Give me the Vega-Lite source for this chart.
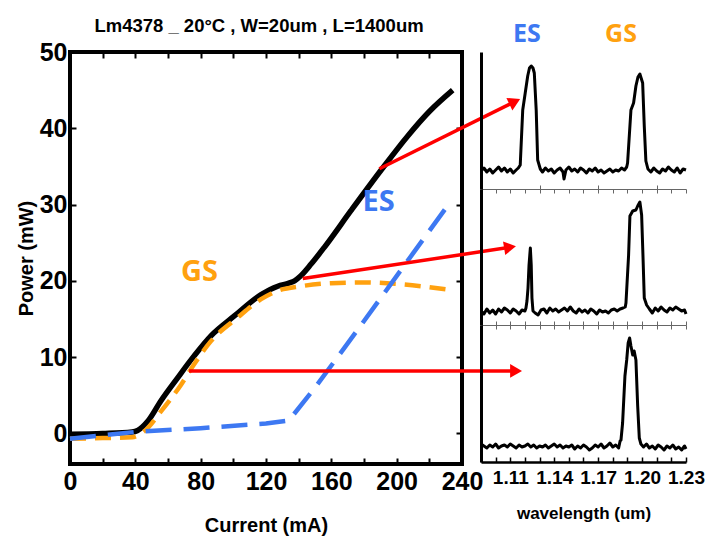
{
  "$schema": "https://vega.github.io/schema/vega-lite/v6.json",
  "background": "white",
  "padding": {"left": 14, "top": 14, "right": 2, "bottom": 2},
  "bounds": "flush",
  "spacing": 19,
  "config": {
    "view": {"stroke": "black", "strokeWidth": 4},
    "font": "Liberation Sans",
    "axis": {
      "labelFont": "Liberation Sans",
      "labelFontWeight": "bold",
      "labelColor": "black",
      "titleFont": "Liberation Sans",
      "titleFontWeight": "bold",
      "titleColor": "black",
      "grid": false,
      "domain": false,
      "tickColor": "black"
    }
  },
  "datasets": {
    "li": [
      {"s": "total", "I": 0, "P": -0.1}, {"s": "total", "I": 20, "P": 0.0}, {"s": "total", "I": 38, "P": 0.2},
      {"s": "total", "I": 41.4, "P": 0.4}, {"s": "total", "I": 47.6, "P": 1.6}, {"s": "total", "I": 55.7, "P": 4.3},
      {"s": "total", "I": 65.9, "P": 7.3}, {"s": "total", "I": 76.1, "P": 10.2}, {"s": "total", "I": 86.3, "P": 12.8},
      {"s": "total", "I": 100.6, "P": 15.4}, {"s": "total", "I": 117, "P": 18.2}, {"s": "total", "I": 127.2, "P": 19.3},
      {"s": "total", "I": 134, "P": 19.7}, {"s": "total", "I": 137.5, "P": 20.0}, {"s": "total", "I": 141, "P": 20.6},
      {"s": "total", "I": 147.6, "P": 22.2}, {"s": "total", "I": 155.7, "P": 24.4}, {"s": "total", "I": 172, "P": 29.2},
      {"s": "total", "I": 190.4, "P": 34.5}, {"s": "total", "I": 206.8, "P": 39.0}, {"s": "total", "I": 220, "P": 42.2},
      {"s": "total", "I": 234.3, "P": 45.0},
      {"s": "GS", "I": 0, "P": -0.7}, {"s": "GS", "I": 20, "P": -0.6}, {"s": "GS", "I": 38, "P": -0.5},
      {"s": "GS", "I": 45.5, "P": 0.3}, {"s": "GS", "I": 55.7, "P": 2.9}, {"s": "GS", "I": 68, "P": 6.4},
      {"s": "GS", "I": 76.1, "P": 9.1}, {"s": "GS", "I": 86.3, "P": 12.1}, {"s": "GS", "I": 102.7, "P": 15.2},
      {"s": "GS", "I": 117, "P": 17.6}, {"s": "GS", "I": 127.2, "P": 18.7}, {"s": "GS", "I": 141.4, "P": 19.3},
      {"s": "GS", "I": 160, "P": 19.7}, {"s": "GS", "I": 180, "P": 19.8}, {"s": "GS", "I": 200, "P": 19.6},
      {"s": "GS", "I": 215, "P": 19.3}, {"s": "GS", "I": 230, "P": 18.9},
      {"s": "ES", "I": 0, "P": -0.7}, {"s": "ES", "I": 40, "P": 0.2}, {"s": "ES", "I": 80, "P": 0.7},
      {"s": "ES", "I": 120, "P": 1.3}, {"s": "ES", "I": 134, "P": 1.7}, {"s": "ES", "I": 150, "P": 6.0},
      {"s": "ES", "I": 170, "P": 11.8}, {"s": "ES", "I": 190.4, "P": 17.8}, {"s": "ES", "I": 210, "P": 23.6},
      {"s": "ES", "I": 231, "P": 29.8}
    ],
    "arr": [
      {"x1": 72.9, "y1": 8.2, "x2": 273.1, "y2": 8.2, "ang": 0},
      {"x1": 142.5, "y1": 20.3, "x2": 269.4, "y2": 24.4, "ang": 350.8},
      {"x1": 189.4, "y1": 34.7, "x2": 272.3, "y2": 43.5, "ang": 334.2}
    ],
    "lilbl": [
      {"I": 79.2, "P": 21.1, "t": "GS"},
      {"I": 188.9, "P": 30.3, "t": "ES"}
    ],
    "speclbl": [
      {"w": 1.1214, "i": 155.5, "t": "ES"},
      {"w": 1.1856, "i": 155.5, "t": "GS"}
    ],
    "top": [
      {"w": 1.090, "i": 18}, {"w": 1.092, "i": 21}, {"w": 1.094, "i": 17}, {"w": 1.096, "i": 20}, {"w": 1.098, "i": 16},
      {"w": 1.100, "i": 19}, {"w": 1.102, "i": 22}, {"w": 1.104, "i": 18}, {"w": 1.106, "i": 21}, {"w": 1.108, "i": 17},
      {"w": 1.110, "i": 20}, {"w": 1.112, "i": 16}, {"w": 1.114, "i": 19}, {"w": 1.1155, "i": 21},
      {"w": 1.1168, "i": 24}, {"w": 1.1185, "i": 79}, {"w": 1.1202, "i": 96}, {"w": 1.1219, "i": 113}, {"w": 1.1231, "i": 121},
      {"w": 1.1243, "i": 123}, {"w": 1.1255, "i": 121}, {"w": 1.1264, "i": 116}, {"w": 1.1277, "i": 79}, {"w": 1.1287, "i": 29},
      {"w": 1.1305, "i": 20},
      {"w": 1.132, "i": 17}, {"w": 1.134, "i": 21}, {"w": 1.136, "i": 18}, {"w": 1.138, "i": 20}, {"w": 1.140, "i": 16},
      {"w": 1.142, "i": 19}, {"w": 1.144, "i": 21}, {"w": 1.146, "i": 17}, {"w": 1.1467, "i": 10}, {"w": 1.148, "i": 19},
      {"w": 1.150, "i": 22}, {"w": 1.152, "i": 18}, {"w": 1.154, "i": 20}, {"w": 1.156, "i": 17}, {"w": 1.158, "i": 21},
      {"w": 1.160, "i": 19}, {"w": 1.162, "i": 16}, {"w": 1.164, "i": 20}, {"w": 1.166, "i": 18}, {"w": 1.168, "i": 21},
      {"w": 1.170, "i": 17}, {"w": 1.172, "i": 19}, {"w": 1.174, "i": 16}, {"w": 1.176, "i": 18}, {"w": 1.178, "i": 20},
      {"w": 1.180, "i": 17}, {"w": 1.182, "i": 19}, {"w": 1.184, "i": 18}, {"w": 1.186, "i": 21}, {"w": 1.188, "i": 19},
      {"w": 1.1895, "i": 22},
      {"w": 1.1901, "i": 26}, {"w": 1.1924, "i": 79}, {"w": 1.1942, "i": 86}, {"w": 1.1958, "i": 103}, {"w": 1.1972, "i": 112},
      {"w": 1.1985, "i": 115}, {"w": 1.2004, "i": 106}, {"w": 1.2015, "i": 63}, {"w": 1.2026, "i": 28}, {"w": 1.204, "i": 20},
      {"w": 1.206, "i": 17}, {"w": 1.208, "i": 21}, {"w": 1.210, "i": 18}, {"w": 1.212, "i": 16}, {"w": 1.214, "i": 20},
      {"w": 1.216, "i": 18}, {"w": 1.218, "i": 22}, {"w": 1.220, "i": 19}, {"w": 1.222, "i": 17}, {"w": 1.224, "i": 21},
      {"w": 1.226, "i": 16}, {"w": 1.228, "i": 20}, {"w": 1.230, "i": 19}
    ],
    "mid": [
      {"w": 1.090, "i": 14}, {"w": 1.092, "i": 11}, {"w": 1.094, "i": 16}, {"w": 1.096, "i": 12}, {"w": 1.098, "i": 15},
      {"w": 1.100, "i": 11}, {"w": 1.102, "i": 16}, {"w": 1.104, "i": 13}, {"w": 1.106, "i": 17}, {"w": 1.108, "i": 15},
      {"w": 1.110, "i": 12}, {"w": 1.112, "i": 16}, {"w": 1.114, "i": 14}, {"w": 1.116, "i": 11}, {"w": 1.118, "i": 15},
      {"w": 1.120, "i": 14}, {"w": 1.1207, "i": 17},
      {"w": 1.1214, "i": 24}, {"w": 1.1221, "i": 37}, {"w": 1.1228, "i": 60}, {"w": 1.1237, "i": 77}, {"w": 1.1243, "i": 60},
      {"w": 1.1248, "i": 27}, {"w": 1.1255, "i": 14},
      {"w": 1.127, "i": 12}, {"w": 1.129, "i": 10}, {"w": 1.131, "i": 15}, {"w": 1.133, "i": 16}, {"w": 1.135, "i": 12},
      {"w": 1.137, "i": 17}, {"w": 1.139, "i": 14}, {"w": 1.141, "i": 16}, {"w": 1.143, "i": 13}, {"w": 1.145, "i": 15},
      {"w": 1.147, "i": 17}, {"w": 1.149, "i": 14}, {"w": 1.151, "i": 18}, {"w": 1.153, "i": 14}, {"w": 1.155, "i": 12},
      {"w": 1.157, "i": 16}, {"w": 1.159, "i": 13}, {"w": 1.161, "i": 15}, {"w": 1.163, "i": 12}, {"w": 1.165, "i": 16},
      {"w": 1.167, "i": 14}, {"w": 1.169, "i": 11}, {"w": 1.171, "i": 15}, {"w": 1.173, "i": 13}, {"w": 1.175, "i": 14},
      {"w": 1.177, "i": 12}, {"w": 1.179, "i": 15}, {"w": 1.181, "i": 16}, {"w": 1.183, "i": 14}, {"w": 1.185, "i": 16},
      {"w": 1.187, "i": 17}, {"w": 1.1885, "i": 18},
      {"w": 1.189, "i": 22}, {"w": 1.1908, "i": 70}, {"w": 1.1917, "i": 109}, {"w": 1.1936, "i": 114}, {"w": 1.1958, "i": 115},
      {"w": 1.197, "i": 119}, {"w": 1.1985, "i": 123}, {"w": 1.1997, "i": 110}, {"w": 1.2006, "i": 70}, {"w": 1.2015, "i": 27},
      {"w": 1.2031, "i": 20},
      {"w": 1.205, "i": 16}, {"w": 1.207, "i": 12}, {"w": 1.209, "i": 17}, {"w": 1.211, "i": 14}, {"w": 1.213, "i": 18},
      {"w": 1.215, "i": 15}, {"w": 1.217, "i": 13}, {"w": 1.219, "i": 17}, {"w": 1.221, "i": 15}, {"w": 1.223, "i": 18},
      {"w": 1.225, "i": 16}, {"w": 1.227, "i": 14}, {"w": 1.229, "i": 15}, {"w": 1.230, "i": 11}
    ],
    "bot": [
      {"w": 1.090, "i": 18}, {"w": 1.092, "i": 16}, {"w": 1.094, "i": 14}, {"w": 1.096, "i": 17}, {"w": 1.098, "i": 15},
      {"w": 1.100, "i": 18}, {"w": 1.102, "i": 14}, {"w": 1.104, "i": 16}, {"w": 1.106, "i": 17}, {"w": 1.108, "i": 15},
      {"w": 1.110, "i": 18}, {"w": 1.112, "i": 16}, {"w": 1.114, "i": 14}, {"w": 1.116, "i": 17}, {"w": 1.118, "i": 15},
      {"w": 1.120, "i": 16}, {"w": 1.122, "i": 18}, {"w": 1.124, "i": 15}, {"w": 1.126, "i": 17}, {"w": 1.128, "i": 14},
      {"w": 1.130, "i": 16}, {"w": 1.132, "i": 15}, {"w": 1.134, "i": 17}, {"w": 1.136, "i": 14}, {"w": 1.138, "i": 16},
      {"w": 1.140, "i": 18}, {"w": 1.142, "i": 15}, {"w": 1.144, "i": 17}, {"w": 1.146, "i": 14}, {"w": 1.148, "i": 16},
      {"w": 1.150, "i": 15}, {"w": 1.152, "i": 17}, {"w": 1.154, "i": 13}, {"w": 1.156, "i": 16}, {"w": 1.158, "i": 14},
      {"w": 1.160, "i": 17}, {"w": 1.162, "i": 15}, {"w": 1.164, "i": 12}, {"w": 1.166, "i": 14}, {"w": 1.168, "i": 17},
      {"w": 1.170, "i": 15}, {"w": 1.172, "i": 18}, {"w": 1.174, "i": 14}, {"w": 1.176, "i": 16}, {"w": 1.178, "i": 19},
      {"w": 1.180, "i": 15}, {"w": 1.182, "i": 17}, {"w": 1.184, "i": 14}, {"w": 1.185, "i": 21},
      {"w": 1.1856, "i": 22}, {"w": 1.1867, "i": 39}, {"w": 1.1883, "i": 86}, {"w": 1.1895, "i": 102}, {"w": 1.1905, "i": 119},
      {"w": 1.1915, "i": 124}, {"w": 1.1924, "i": 116}, {"w": 1.1936, "i": 107}, {"w": 1.1946, "i": 111}, {"w": 1.1958, "i": 102},
      {"w": 1.197, "i": 56}, {"w": 1.1981, "i": 24}, {"w": 1.1992, "i": 18},
      {"w": 1.201, "i": 15}, {"w": 1.203, "i": 18}, {"w": 1.205, "i": 14}, {"w": 1.207, "i": 16}, {"w": 1.209, "i": 13},
      {"w": 1.211, "i": 17}, {"w": 1.213, "i": 15}, {"w": 1.215, "i": 12}, {"w": 1.217, "i": 16}, {"w": 1.219, "i": 14},
      {"w": 1.221, "i": 17}, {"w": 1.223, "i": 13}, {"w": 1.225, "i": 15}, {"w": 1.227, "i": 12}, {"w": 1.229, "i": 16},
      {"w": 1.230, "i": 13}
    ]
  },
  "hconcat": [
    {
      "width": 392,
      "height": 412,
      "title": {
        "text": "Lm4378 _ 20°C , W=20um , L=1400um",
        "font": "Liberation Sans",
        "fontSize": 18.5,
        "fontWeight": "bold",
        "color": "black",
        "frame": "group",
        "offset": 5,
        "dx": -7,
        "anchor": "middle"
      },
      "resolve": {"axis": {"x": "independent", "y": "independent"}},
      "layer": [
        {
          "data": {"name": "li"},
          "transform": [{"filter": "datum.s == 'total'"}],
          "mark": {"type": "line", "color": "black", "strokeWidth": 5.5, "strokeJoin": "round", "strokeCap": "butt", "interpolate": "monotone"},
          "encoding": {
            "x": {"field": "I", "type": "quantitative", "scale": {"domain": [0, 240], "nice": false, "zero": false},
              "axis": {"orient": "bottom", "values": [0, 20, 40, 60, 80, 100, 120, 140, 160, 180, 200, 220, 240],
                "labelExpr": "datum.value % 40 === 0 ? datum.label : ''", "tickSize": -6, "tickWidth": 2,
                "labelPadding": 11, "labelFontSize": 25, "labelOverlap": false, "labelFlush": false,
                "title": "Current (mA)", "titleFontSize": 20, "titlePadding": 21}},
            "y": {"field": "P", "type": "quantitative", "scale": {"domain": [-4, 50], "nice": false, "zero": false},
              "axis": {"orient": "left", "values": [0, 10, 20, 30, 40, 50], "tickSize": -6, "tickWidth": 2,
                "labelPadding": 9, "labelFontSize": 25, "labelFlush": false, "labelOverlap": false,
                "title": "Power (mW)", "titleFontSize": 20, "titlePadding": 3}}
          }
        },
        {
          "data": {"name": "li"},
          "transform": [{"filter": "datum.s == 'total'"}],
          "mark": {"type": "line", "strokeOpacity": 0},
          "encoding": {
            "x": {"field": "I", "type": "quantitative",
              "axis": {"orient": "top", "values": [0, 20, 40, 60, 80, 100, 120, 140, 160, 180, 200, 220, 240],
                "labels": false, "tickSize": -6, "tickWidth": 2, "title": null}},
            "y": {"field": "P", "type": "quantitative",
              "axis": {"orient": "right", "values": [0, 10, 20, 30, 40, 50], "labels": false, "tickSize": -6, "tickWidth": 2, "title": null}}
          }
        },
        {
          "data": {"name": "li"},
          "transform": [{"filter": "datum.s == 'GS'"}],
          "mark": {"type": "line", "color": "#FFA10F", "strokeWidth": 4.5, "strokeDash": [16, 9], "interpolate": "monotone"},
          "encoding": {
            "x": {"field": "I", "type": "quantitative", "axis": null},
            "y": {"field": "P", "type": "quantitative", "axis": null}
          }
        },
        {
          "data": {"name": "li"},
          "transform": [{"filter": "datum.s == 'ES'"}],
          "mark": {"type": "line", "color": "#3D78F2", "strokeWidth": 4.5, "strokeDash": [26, 12]},
          "encoding": {
            "x": {"field": "I", "type": "quantitative", "axis": null},
            "y": {"field": "P", "type": "quantitative", "axis": null}
          }
        },
        {
          "data": {"name": "arr"},
          "mark": {"type": "rule", "color": "#FF0000", "strokeWidth": 3.5},
          "encoding": {
            "x": {"field": "x1", "type": "quantitative", "axis": null},
            "y": {"field": "y1", "type": "quantitative", "axis": null},
            "x2": {"field": "x2"},
            "y2": {"field": "y2"}
          }
        },
        {
          "data": {"name": "arr"},
          "mark": {"type": "point", "shape": "triangle-right", "filled": true, "color": "#FF0000", "size": 190, "opacity": 1},
          "encoding": {
            "x": {"field": "x2", "type": "quantitative", "axis": null},
            "y": {"field": "y2", "type": "quantitative", "axis": null},
            "angle": {"field": "ang", "type": "quantitative", "scale": null}
          }
        },
        {
          "data": {"name": "lilbl"},
          "mark": {"type": "text", "font": "Open Sans", "fontWeight": "bold", "fontSize": 29, "baseline": "middle", "align": "center"},
          "encoding": {
            "x": {"field": "I", "type": "quantitative", "axis": null},
            "y": {"field": "P", "type": "quantitative", "axis": null},
            "text": {"field": "t"},
            "color": {"field": "t", "type": "nominal", "scale": {"domain": ["ES", "GS"], "range": ["#3D78F2", "#FFA10F"]}, "legend": null}
          }
        }
      ]
    },
    {
      "bounds": "flush",
      "spacing": 0,
      "vconcat": [
        {
          "width": 205,
          "height": 137,
          "view": {"stroke": null},
          "layer": [
            {
              "data": {"name": "top"},
              "mark": {"type": "line", "color": "black", "strokeWidth": 3, "strokeJoin": "round"},
              "encoding": {
                "x": {"field": "w", "type": "quantitative", "scale": {"domain": [1.09, 1.23], "nice": false, "zero": false},
                  "axis": {"orient": "bottom", "values": [1.09, 1.1, 1.11, 1.12, 1.13, 1.14, 1.15, 1.16, 1.17, 1.18, 1.19, 1.2, 1.21, 1.22, 1.23],
                    "labels": false, "tickSize": -4, "tickColor": "#666666", "domain": true, "domainColor": "#666666", "domainWidth": 1.2, "title": null}},
                "y": {"field": "i", "type": "quantitative", "scale": {"domain": [0, 137], "nice": false},
                  "axis": {"orient": "left", "domain": true, "domainColor": "black", "domainWidth": 3, "ticks": false, "labels": false, "title": null}}
              }
            },
            {
              "data": {"name": "speclbl"},
              "mark": {"type": "text", "font": "Open Sans", "fontWeight": "bold", "fontSize": 25, "baseline": "middle", "align": "center"},
              "encoding": {
                "x": {"field": "w", "type": "quantitative"},
                "y": {"field": "i", "type": "quantitative"},
                "text": {"field": "t"},
                "color": {"field": "t", "type": "nominal", "scale": {"domain": ["ES", "GS"], "range": ["#3D78F2", "#FFA10F"]}, "legend": null}
              }
            }
          ]
        },
        {
          "width": 205,
          "height": 136,
          "view": {"stroke": null},
          "resolve": {"axis": {"x": "independent"}},
          "layer": [
            {
              "data": {"name": "mid"},
              "mark": {"type": "line", "color": "black", "strokeWidth": 3, "strokeJoin": "round"},
              "encoding": {
                "x": {"field": "w", "type": "quantitative", "scale": {"domain": [1.09, 1.23], "nice": false, "zero": false},
                  "axis": {"orient": "bottom", "values": [1.09, 1.1, 1.11, 1.12, 1.13, 1.14, 1.15, 1.16, 1.17, 1.18, 1.19, 1.2, 1.21, 1.22, 1.23],
                    "labels": false, "tickSize": -4, "tickColor": "#666666", "domain": true, "domainColor": "#666666", "domainWidth": 1.2, "title": null}},
                "y": {"field": "i", "type": "quantitative", "scale": {"domain": [0, 136], "nice": false},
                  "axis": {"orient": "left", "domain": true, "domainColor": "black", "domainWidth": 3, "ticks": false, "labels": false, "title": null}}
              }
            },
            {
              "data": {"name": "mid"},
              "mark": {"type": "line", "strokeOpacity": 0},
              "encoding": {
                "x": {"field": "w", "type": "quantitative",
                  "axis": {"orient": "top", "values": [1.09, 1.1, 1.11, 1.12, 1.13, 1.14, 1.15, 1.16, 1.17, 1.18, 1.19, 1.2, 1.21, 1.22, 1.23],
                    "labels": false, "tickSize": -4, "tickColor": "#666666", "domain": false, "title": null}},
                "y": {"field": "i", "type": "quantitative"}
              }
            }
          ]
        },
        {
          "width": 205,
          "height": 137,
          "view": {"stroke": null},
          "resolve": {"axis": {"x": "independent"}},
          "layer": [
            {
              "data": {"name": "bot"},
              "mark": {"type": "line", "color": "black", "strokeWidth": 3, "strokeJoin": "round"},
              "encoding": {
                "x": {"field": "w", "type": "quantitative", "scale": {"domain": [1.09, 1.23], "nice": false, "zero": false},
                  "axis": {"orient": "bottom", "values": [1.09, 1.1, 1.11, 1.12, 1.13, 1.14, 1.15, 1.16, 1.17, 1.18, 1.19, 1.2, 1.21, 1.22, 1.23],
                    "labelExpr": "indexof(['1.11','1.14','1.17','1.20','1.23'], format(datum.value, '.2f')) >= 0 ? format(datum.value, '.2f') : ''",
                    "tickSize": -5, "tickWidth": 1.5, "tickColor": "black", "domain": true, "domainColor": "black", "domainWidth": 2.5,
                    "labelFontSize": 19, "labelPadding": 11, "labelOverlap": false, "labelFlush": false,
                    "title": "wavelength (um)", "titleFontSize": 17, "titlePadding": 18}},
                "y": {"field": "i", "type": "quantitative", "scale": {"domain": [0, 137], "nice": false},
                  "axis": {"orient": "left", "domain": true, "domainColor": "black", "domainWidth": 3, "ticks": false, "labels": false, "title": null}}
              }
            },
            {
              "data": {"name": "bot"},
              "mark": {"type": "line", "strokeOpacity": 0},
              "encoding": {
                "x": {"field": "w", "type": "quantitative",
                  "axis": {"orient": "top", "values": [1.09, 1.1, 1.11, 1.12, 1.13, 1.14, 1.15, 1.16, 1.17, 1.18, 1.19, 1.2, 1.21, 1.22, 1.23],
                    "labels": false, "tickSize": -4, "tickColor": "#666666", "domain": false, "title": null}},
                "y": {"field": "i", "type": "quantitative"}
              }
            }
          ]
        }
      ]
    }
  ]
}
